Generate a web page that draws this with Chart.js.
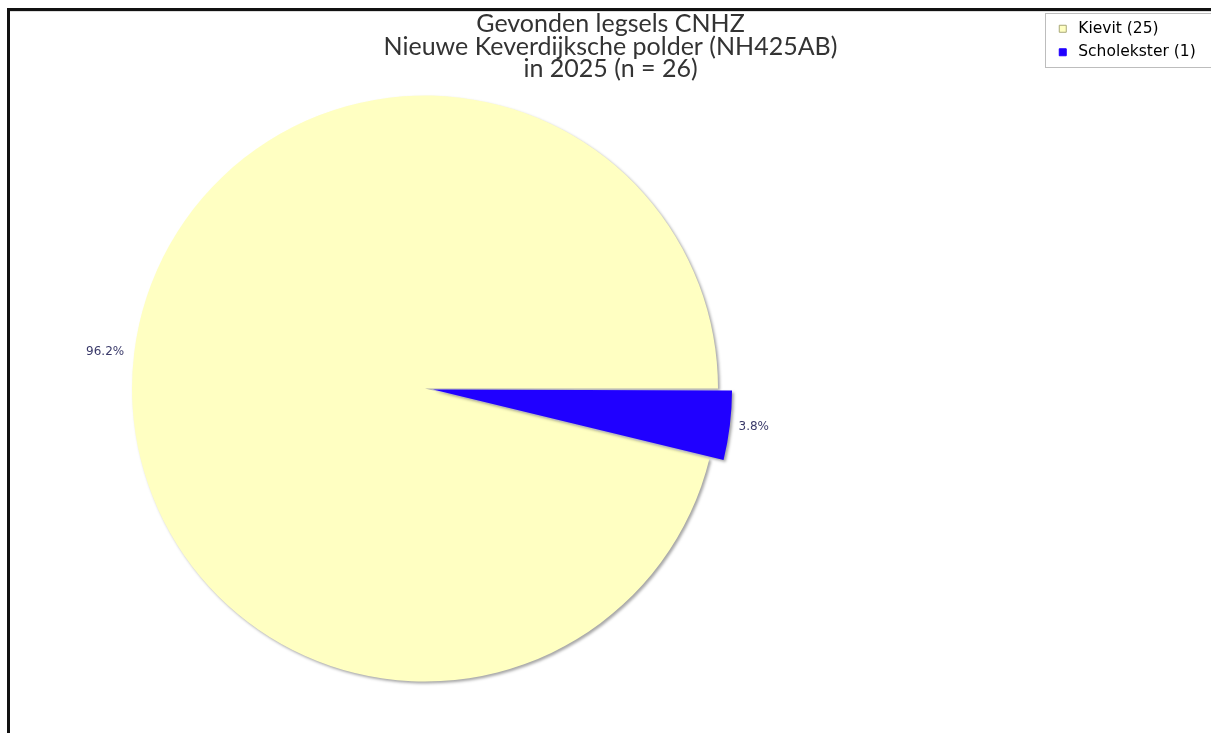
<!DOCTYPE html>
<html>
<head>
<meta charset="utf-8">
<title>Gevonden legsels CNHZ</title>
<script src="https://cdn.jsdelivr.net/npm/chart.js@4.4.1/dist/chart.umd.min.js"></script>
<style>
    html, body { margin: 0; padding: 0; background: #fff; }
    #wrap { position: relative; width: 1211px; height: 733px; }
</style>
</head>
<body>
<div id="wrap"><canvas id="legselsChart"></canvas></div>
<script>
// Data
const soorten = ['Kievit', 'Scholekster'];
const aantallen = [25, 1];
const kleuren = ['#ffffc2', '#2000ff'];
const titelRegels = ['Gevonden legsels CNHZ', 'Nieuwe Keverdijksche polder (NH425AB)', 'in 2025 (n = 26)'];

const totaal = aantallen.reduce((a, b) => a + b, 0);

// Black frame lines on top and left
const framePlugin = {
    id: 'frame',
    beforeDraw(chart) {
        const ctx = chart.ctx;
        ctx.save();
        ctx.fillStyle = '#111';
        ctx.fillRect(7, 8, chart.width - 7, 3);
        ctx.fillRect(7, 8, 3, chart.height - 8);
        ctx.fillStyle = '#dcdcdc';
        ctx.fillRect(10, 11, chart.width - 10, 1);
        ctx.restore();
    }
};

// Title over the whole frame, legend top right, pie left of centre
const placementPlugin = {
    id: 'placement',
    afterLayout(chart) {
        const t = chart.titleBlock;
        t.left = 10;
        t.right = chart.width;

        const lg = chart.legend;
        lg.left = 1047;
        lg.right = chart.width;
        lg.top = 13;
        lg.bottom = 68;

        const a = chart.chartArea;
        a.left = 116;
        a.right = 734;
        a.top = 79.5;
        a.bottom = 697.5;
        a.width = a.right - a.left;
        a.height = a.bottom - a.top;
    },
    afterDraw(chart) {
        const ctx = chart.ctx;
        ctx.save();
        ctx.strokeStyle = '#bdbdbd';
        ctx.lineWidth = 1;
        ctx.strokeRect(1045.5, 13.5, chart.width - 1045, 54);
        ctx.restore();
    }
};

// Soft shadow under the pie
const shadowPlugin = {
    id: 'pieShadow',
    beforeDatasetsDraw(chart) {
        const ctx = chart.ctx;
        ctx.save();
        ctx.shadowColor = 'rgba(0, 0, 0, 0.35)';
        ctx.shadowBlur = 3;
        ctx.shadowOffsetX = 2;
        ctx.shadowOffsetY = 2;
    },
    afterDatasetsDraw(chart) {
        chart.ctx.restore();
    }
};

// Percentages just outside each slice
const percentPlugin = {
    id: 'percentLabels',
    afterDatasetsDraw(chart) {
        const ctx = chart.ctx;
        const meta = chart.getDatasetMeta(0);
        ctx.save();
        ctx.font = '12px "DejaVu Sans"';
        ctx.fillStyle = '#3a3a6a';
        ctx.textBaseline = 'middle';
        meta.data.forEach((arc, i) => {
            const p = arc.getProps(['x', 'y', 'startAngle', 'endAngle', 'outerRadius'], true);
            const mid = (p.startAngle + p.endAngle) / 2;
            const off = arc.options.offset || 0;
            const r = p.outerRadius + off * 0.4 + 10;
            const x = p.x + Math.cos(mid) * r;
            const y = p.y + Math.sin(mid) * r;
            ctx.textAlign = Math.cos(mid) >= 0 ? 'left' : 'right';
            const pct = (aantallen[i] / totaal * 100).toFixed(1) + '%';
            ctx.fillText(pct, x, y);
        });
        ctx.restore();
    }
};

document.addEventListener('DOMContentLoaded', function() {
    const ctx = document.getElementById('legselsChart').getContext('2d');
    new Chart(ctx, {
        type: 'pie',
        data: {
            labels: soorten,
            datasets: [{
                data: aantallen,
                backgroundColor: kleuren,
                borderWidth: 0,
                offset: [0, 32],
                hoverOffset: 0,
                clip: false
            }]
        },
        options: {
            responsive: true,
            maintainAspectRatio: false,
            animation: false,
            // Scholekster slice starts at 3 o'clock
            rotation: 90 + 360 * aantallen[1] / totaal,
            plugins: {
                title: {
                    display: true,
                    text: titelRegels,
                    color: '#333',
                    font: { family: 'Lato', size: 25, weight: 'normal', lineHeight: 0.9 },
                    padding: { top: 13, bottom: 0 }
                },
                legend: {
                    display: true,
                    position: 'right',
                    align: 'start',
                    labels: {
                        usePointStyle: true,
                        pointStyle: 'rect',
                        boxWidth: 15.5,
                        boxHeight: 7,
                        padding: 8,
                        color: '#333',
                        font: { family: 'DejaVu Sans', size: 15.5 },
                        generateLabels(chart) {
                            const ds = chart.data.datasets[0];
                            return chart.data.labels.map((label, i) => ({
                                text: label + ' (' + ds.data[i] + ')',
                                fillStyle: ds.backgroundColor[i],
                                strokeStyle: i === 0 ? '#a8a878' : ds.backgroundColor[i],
                                lineWidth: 1,
                                pointStyle: 'rect',
                                hidden: false,
                                index: i
                            }));
                        }
                    }
                },
                tooltip: { enabled: false }
            }
        },
        plugins: [framePlugin, placementPlugin, shadowPlugin, percentPlugin]
    });
});
</script>
</body>
</html>
